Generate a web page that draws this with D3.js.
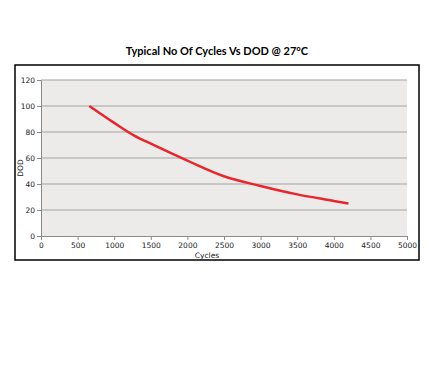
<!DOCTYPE html>
<html><head><meta charset="utf-8">
<script src="https://cdn.jsdelivr.net/npm/d3@7/dist/d3.min.js"></script>
<style>body{margin:0;background:#fff}</style>
</head><body>
<script>
const cycles = [660, 1000, 1280, 1500, 2000, 2500, 3000, 3500, 4000, 4200];
const dod    = [100, 87, 77, 71, 58, 46, 38.5, 32, 27, 25];
const xTicks = [0,500,1000,1500,2000,2500,3000,3500,4000,4500,5000];
const yTicks = [0,20,40,60,80,100,120];
const title = "Typical No Of Cycles Vs DOD @ 27°C";

const W=432,H=378;
const svg=d3.select("body").append("svg").attr("width",W).attr("height",H);
svg.append("rect").attr("x",15).attr("y",65).attr("width",404).attr("height",195)
  .attr("fill","#fff").attr("stroke","#000").attr("stroke-width",1.5);
svg.append("text").attr("x",217).attr("y",55).attr("text-anchor","middle")
  .attr("font-family","Lato").attr("font-weight","bold").attr("font-size",11)
  .attr("fill","#000").text(title);

const x=d3.scaleLinear().domain([0,5000]).range([41,407]);
const y=d3.scaleLinear().domain([0,120]).range([236,80]);
svg.append("rect").attr("x",x(0)).attr("y",y(120)).attr("width",x(5000)-x(0)).attr("height",y(0)-y(120)).attr("fill","#ecebea");
svg.append("g").selectAll("line").data(yTicks.filter(d=>d>0)).join("line")
  .attr("x1",x(0)).attr("x2",x(5000)).attr("y1",d=>y(d)).attr("y2",d=>y(d))
  .attr("stroke","#a3a3a3").attr("stroke-width",1);

const fontAxis="DejaVu Sans";
const gx=svg.append("g").attr("transform",`translate(0,${y(0)})`)
  .call(d3.axisBottom(x).tickValues(xTicks).tickFormat(d3.format("d")).tickSize(4).tickPadding(3));
const gy=svg.append("g").attr("transform",`translate(${x(0)},0)`)
  .call(d3.axisLeft(y).tickValues(yTicks).tickFormat(d3.format("d")).tickSize(4).tickPadding(2));
[gx,gy].forEach(g=>{
  g.select(".domain").attr("stroke","#8a8a8a");
  g.selectAll(".tick line").attr("stroke","#8a8a8a");
  g.selectAll(".tick text").attr("font-family",fontAxis).attr("font-size",7.5).attr("fill","#222");
});
svg.append("text").attr("x",207).attr("y",258).attr("text-anchor","middle")
  .attr("font-family",fontAxis).attr("font-size",7.5).attr("fill","#222").text("Cycles");
svg.append("text").attr("transform","translate(23,168) rotate(-90)").attr("text-anchor","middle")
  .attr("font-family",fontAxis).attr("font-size",7.5).attr("fill","#222").text("DOD");

const pts=cycles.map((c,i)=>[c,dod[i]]);
svg.append("path").datum(pts)
  .attr("d",d3.line().x(d=>x(d[0])).y(d=>y(d[1])).curve(d3.curveMonotoneX))
  .attr("fill","none").attr("stroke","#e8262d").attr("stroke-width",2.5).attr("stroke-linecap","butt");
</script>
</body></html>
